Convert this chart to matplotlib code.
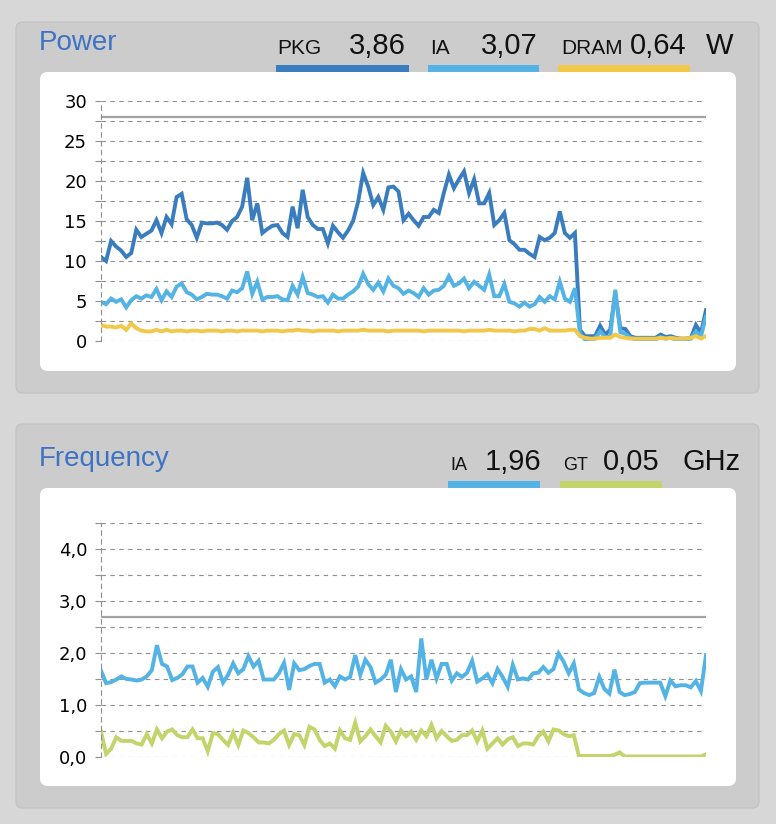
import numpy as np
import matplotlib
matplotlib.use("Agg")
import matplotlib.pyplot as plt
from matplotlib.patches import FancyBboxPatch, Rectangle

# Power readings (W), one sample per tick
pkg = [10.5, 10.0, 12.5, 11.8, 11.3, 10.5, 11.0, 13.9, 13.0, 13.4, 13.8, 15.1, 13.5, 15.5, 14.6,
       18.0, 18.4, 15.2, 14.5, 12.9, 14.8, 14.7, 14.7, 14.8, 14.5, 13.9, 15.0, 15.5, 16.8, 20.4,
       15.1, 17.2, 13.5, 14.0, 14.4, 14.5, 13.5, 13.0, 16.8, 14.1, 18.9, 15.5, 14.5, 14.0, 14.0,
       12.2, 14.4, 13.6, 12.9, 13.8, 15.0, 17.4, 21.0, 19.3, 17.0, 18.0, 16.4, 19.2, 19.3, 18.7,
       15.1, 15.9, 15.1, 14.4, 15.5, 15.5, 16.4, 16.0, 18.5, 20.8, 19.1, 20.2, 21.2, 18.5, 20.2,
       17.2, 17.2, 18.5, 14.5, 15.1, 16.0, 12.6, 12.1, 11.4, 11.4, 10.9, 10.5, 13.0, 12.6, 12.9,
       13.5, 16.2, 13.5, 12.9, 13.5, 1.4, 0.6, 0.6, 0.6, 1.9, 0.8, 1.4, 6.0, 1.6, 1.5,
       0.6, 0.4, 0.4, 0.4, 0.4, 0.4, 0.8, 0.5, 0.6, 0.4, 0.3, 0.3, 0.4, 2.0, 1.0, 3.86]
ia_power = [4.9, 4.6, 5.3, 4.9, 5.2, 4.2, 5.1, 5.6, 5.3, 5.7, 5.5, 6.5, 5.1, 6.2, 5.5,
            6.8, 7.2, 6.1, 5.8, 5.2, 5.5, 5.9, 5.8, 5.8, 5.6, 5.3, 6.3, 6.1, 6.6, 8.7,
            5.9, 7.4, 5.2, 5.5, 5.5, 5.6, 5.2, 5.1, 6.9, 5.8, 8.0, 6.0, 5.8, 5.5, 5.6,
            4.8, 5.8, 5.3, 5.3, 5.8, 6.2, 6.8, 8.4, 7.1, 6.4, 7.3, 6.2, 7.8, 6.9, 6.6,
            5.9, 6.3, 6.0, 5.5, 6.6, 5.8, 6.3, 6.4, 6.9, 8.1, 6.9, 7.2, 7.8, 6.6, 7.4,
            6.9, 6.4, 8.3, 5.6, 5.6, 7.1, 4.9, 4.7, 4.3, 4.8, 4.3, 4.6, 5.5, 4.9, 5.6,
            5.2, 7.4, 5.3, 4.9, 6.6, 0.9, 0.2, 0.2, 0.3, 1.2, 0.5, 0.5, 6.4, 1.1, 0.9,
            0.4, 0.2, 0.2, 0.2, 0.2, 0.2, 0.5, 0.3, 0.4, 0.2, 0.2, 0.2, 0.3, 1.2, 0.6, 3.07]
dram = [2.0, 1.8, 1.8, 1.7, 1.9, 1.4, 2.2, 1.6, 1.3, 1.2, 1.2, 1.4, 1.2, 1.4, 1.2,
        1.3, 1.3, 1.2, 1.3, 1.3, 1.2, 1.3, 1.3, 1.3, 1.2, 1.3, 1.3, 1.2, 1.3, 1.3,
        1.3, 1.3, 1.2, 1.3, 1.3, 1.3, 1.2, 1.3, 1.3, 1.4, 1.3, 1.3, 1.2, 1.3, 1.3,
        1.3, 1.3, 1.2, 1.3, 1.3, 1.3, 1.3, 1.4, 1.3, 1.3, 1.3, 1.3, 1.2, 1.3, 1.3,
        1.3, 1.3, 1.3, 1.3, 1.2, 1.3, 1.3, 1.3, 1.3, 1.3, 1.3, 1.3, 1.2, 1.3, 1.3,
        1.3, 1.3, 1.4, 1.3, 1.3, 1.3, 1.3, 1.2, 1.3, 1.3, 1.5, 1.5, 1.3, 1.6, 1.3,
        1.3, 1.3, 1.3, 1.4, 1.4, 0.6, 0.4, 0.3, 0.3, 0.4, 0.4, 0.4, 0.8, 0.5, 0.4,
        0.3, 0.3, 0.3, 0.3, 0.3, 0.3, 0.4, 0.3, 0.4, 0.3, 0.3, 0.3, 0.4, 0.6, 0.3, 0.64]
power_limit = 28.0

# Frequency readings (GHz)
ia_freq = [1.66, 1.42, 1.44, 1.49, 1.55, 1.50, 1.49, 1.47, 1.49, 1.55, 1.67, 2.15, 1.79, 1.74, 1.48,
           1.52, 1.59, 1.74, 1.74, 1.43, 1.52, 1.35, 1.64, 1.73, 1.43, 1.58, 1.80, 1.61, 1.69, 1.94,
           1.74, 1.85, 1.49, 1.49, 1.49, 1.61, 1.81, 1.29, 1.80, 1.67, 1.69, 1.75, 1.79, 1.79, 1.43,
           1.49, 1.36, 1.55, 1.49, 1.54, 1.96, 1.58, 1.87, 1.73, 1.43, 1.49, 1.58, 1.87, 1.25, 1.69,
           1.49, 1.55, 1.25, 2.28, 1.49, 1.87, 1.51, 1.79, 1.79, 1.47, 1.61, 1.54, 1.62, 1.85, 1.45,
           1.51, 1.59, 1.42, 1.69, 1.54, 1.35, 1.77, 1.49, 1.51, 1.49, 1.61, 1.62, 1.73, 1.62, 1.69,
           1.99, 1.83, 1.61, 1.80, 1.30, 1.23, 1.19, 1.23, 1.54, 1.31, 1.22, 1.68, 1.25, 1.19, 1.21,
           1.25, 1.42, 1.43, 1.43, 1.43, 1.43, 1.17, 1.47, 1.36, 1.38, 1.38, 1.34, 1.46, 1.27, 1.96]
gt_freq = [0.49, 0.06, 0.16, 0.38, 0.31, 0.31, 0.31, 0.26, 0.24, 0.44, 0.26, 0.53, 0.36, 0.49, 0.53,
           0.42, 0.38, 0.38, 0.53, 0.36, 0.36, 0.11, 0.46, 0.44, 0.33, 0.23, 0.47, 0.23, 0.51, 0.46,
           0.38, 0.28, 0.28, 0.26, 0.33, 0.44, 0.51, 0.23, 0.44, 0.42, 0.23, 0.58, 0.53, 0.33, 0.21,
           0.26, 0.16, 0.51, 0.36, 0.33, 0.66, 0.30, 0.40, 0.53, 0.40, 0.28, 0.60, 0.49, 0.30, 0.51,
           0.40, 0.49, 0.33, 0.51, 0.40, 0.62, 0.36, 0.50, 0.40, 0.31, 0.33, 0.42, 0.42, 0.51, 0.30,
           0.51, 0.16, 0.26, 0.36, 0.24, 0.34, 0.38, 0.21, 0.26, 0.26, 0.24, 0.40, 0.49, 0.30, 0.53,
           0.51, 0.44, 0.40, 0.42, 0.02, 0.02, 0.02, 0.02, 0.02, 0.02, 0.02, 0.04, 0.09, 0.01, 0.01,
           0.01, 0.01, 0.01, 0.01, 0.01, 0.01, 0.01, 0.01, 0.01, 0.01, 0.01, 0.01, 0.01, 0.01, 0.05]
freq_limit = 2.69

power_ticks = [0, 5, 10, 15, 20, 25, 30]
power_labels = ["0", "5", "10", "15", "20", "25", "30"]
freq_ticks = [0, 1, 2, 3, 4]
freq_labels = ["0,0", "1,0", "2,0", "3,0", "4,0"]

C_PKG = "#3a7dbf"
C_IA = "#52b3e4"
C_DRAM = "#f1c84a"
C_GT = "#c2d46a"
C_TITLE = "#3d73c4"
C_GRID = "#8f8f8f"
C_LIMIT = "#a3a3a3"
SANS = ["Liberation Sans", "DejaVu Sans"]
LW = 2.8

fig = plt.figure(figsize=(7.76, 8.24), dpi=100)
fig.patch.set_facecolor("#d7d7d7")

# background layer in pixel coordinates
bg = fig.add_axes([0, 0, 1, 1])
bg.set_xlim(0, 776)
bg.set_ylim(824, 0)
bg.axis("off")

for (y0, h, wy, wh) in [(22, 371, 72, 299), (424, 384, 488, 298)]:
    bg.add_patch(FancyBboxPatch((16, y0), 743, h, boxstyle="round,pad=0,rounding_size=7",
                                fc="#cccccc", ec="#c3c3c3", lw=1))
    bg.add_patch(FancyBboxPatch((40, wy), 696, wh, boxstyle="round,pad=0,rounding_size=8",
                                fc="white", ec="none", zorder=3))

# headers
bg.text(39, 50, "Power", fontsize=20, color=C_TITLE, family=SANS, va="baseline")
bg.text(39, 466, "Frequency", fontsize=20, color=C_TITLE, family=SANS, va="baseline")

small, big = 15, 21
bg.text(277, 54, "PKG", fontsize=small, family=SANS, va="baseline", color="#111")
bg.text(349, 54, "3,86", fontsize=big, family=SANS, va="baseline", color="#111")
bg.text(430, 54, "IA", fontsize=small, family=SANS, va="baseline", color="#111")
bg.text(481, 54, "3,07", fontsize=big, family=SANS, va="baseline", color="#111")
bg.text(561, 54, "DRAM", fontsize=small, family=SANS, va="baseline", color="#111")
bg.text(630, 54, "0,64", fontsize=big, family=SANS, va="baseline", color="#111")
bg.text(706, 54, "W", fontsize=big, family=SANS, va="baseline", color="#111")
bg.add_patch(Rectangle((276, 65), 133, 7, fc=C_PKG, ec="none", zorder=2))
bg.add_patch(Rectangle((428, 65), 111, 7, fc=C_IA, ec="none", zorder=2))
bg.add_patch(Rectangle((558, 65), 132, 7, fc=C_DRAM, ec="none", zorder=2))

bg.text(450, 470, "IA", fontsize=13, family=SANS, va="baseline", color="#111")
bg.text(485, 470, "1,96", fontsize=big, family=SANS, va="baseline", color="#111")
bg.text(563, 470, "GT", fontsize=13, family=SANS, va="baseline", color="#111")
bg.text(603, 470, "0,05", fontsize=big, family=SANS, va="baseline", color="#111")
bg.text(682, 470, "GHz", fontsize=big, family=SANS, va="baseline", color="#111")
bg.add_patch(Rectangle((448, 481), 92, 7, fc=C_IA, ec="none", zorder=2))
bg.add_patch(Rectangle((560, 481), 102, 7, fc=C_GT, ec="none", zorder=2))


def style_axes(ax, ymax, step, ticks, labels):
    ax.set_facecolor("none")
    ax.set_ylim(0, ymax)
    ax.set_yticks(ticks, labels)
    ax.set_yticks(np.arange(0, ymax + step / 2, step), minor=True)
    ax.set_xticks([])
    ax.grid(axis="y", which="both", color=C_GRID, lw=0.8, linestyle=(0, (4, 4)))
    for s in ["top", "right", "bottom"]:
        ax.spines[s].set_visible(False)
    ax.spines["left"].set_linestyle((0, (4, 4)))
    ax.spines["left"].set_color(C_GRID)
    ax.spines["left"].set_linewidth(0.8)
    ax.tick_params(axis="y", which="both", length=4, color=C_GRID, width=0.8,
                   labelsize=13, pad=6)


# Power chart
ax1 = fig.add_axes([101 / 776, 1 - 341 / 824, 605 / 776, 240 / 824])
style_axes(ax1, 30, 2.5, power_ticks, power_labels)
x1 = np.arange(len(pkg))
ax1.set_xlim(0, len(pkg) - 1)
ax1.axhline(power_limit, color=C_LIMIT, lw=1.6)
ax1.plot(x1, pkg, color=C_PKG, lw=LW, solid_joinstyle="miter")
ax1.plot(x1, ia_power, color=C_IA, lw=LW, solid_joinstyle="miter")
ax1.plot(x1, dram, color=C_DRAM, lw=LW, solid_joinstyle="miter")

# Frequency chart
ax2 = fig.add_axes([101 / 776, 1 - 757 / 824, 605 / 776, 234 / 824])
style_axes(ax2, 4.5, 0.5, freq_ticks, freq_labels)
x2 = np.arange(len(ia_freq))
ax2.set_xlim(0, len(ia_freq) - 1)
ax2.axhline(freq_limit, color=C_LIMIT, lw=1.6)
ax2.plot(x2, ia_freq, color=C_IA, lw=LW, solid_joinstyle="miter")
ax2.plot(x2, gt_freq, color=C_GT, lw=LW, solid_joinstyle="miter")

fig.savefig("out.png", dpi=100, facecolor=fig.get_facecolor())
